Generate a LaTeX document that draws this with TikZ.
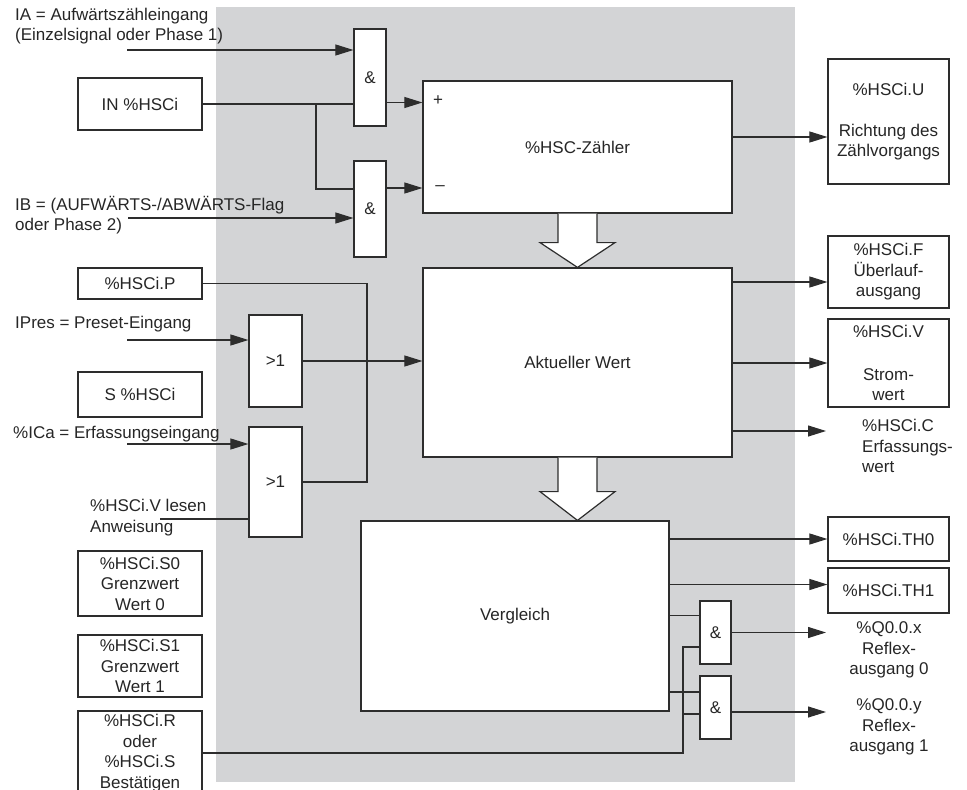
\documentclass[tikz,border=0pt]{standalone}
\usepackage{fontspec}
\setmainfont{Liberation Sans}
\usetikzlibrary{arrows.meta,calc}
\definecolor{hscgrau}{RGB}{211,212,214}
\definecolor{linie}{RGB}{45,45,45}

\begin{document}
\begin{tikzpicture}[x=1pt,y=-1pt,
		font=\fontsize{17}{20.5}\selectfont,
		block/.style={draw=linie,line width=1.2pt,fill=white,inner sep=0pt,align=center,text=black!85},
		gate/.style={block,minimum width=32pt},
		txt/.style={inner sep=0pt,align=left,text=black!85},
		leitung/.style={draw=linie,line width=1.1pt},
		pfeil/.style={leitung,-{Triangle[length=18pt,width=11pt]}},
		blockpfeil/.style={draw=linie,line width=1.2pt,fill=white,line join=miter}]
		\clip (0,0) rectangle (967,790);
		\fill[hscgrau] (216,7) rectangle (795,782);

		\node[gate,minimum height=97pt] (und1) at (370,77.5) {\&};
		\node[gate,minimum height=96pt] (und2) at (370,209) {\&};
		\node[block,minimum width=309pt,minimum height=132pt] (zaehler) at (577.5,147) {\%HSC-Zähler};
		\node[txt] (plus) at (438,101) {+};
		\node[txt] (minus) at (440,188) {--};
		\node[block,minimum width=309pt,minimum height=189pt] (aktwert) at (577.5,362.5) {Aktueller Wert};
		\node[block,minimum width=308pt,minimum height=190pt] (vergleich) at (515,616) {Vergleich};

		\node[block,minimum width=124pt,minimum height=52pt] (inhsc) at (140,104) {IN \%HSCi};
		\node[block,minimum width=124pt,minimum height=31pt] (presetwert) at (140,283.5) {\%HSCi.P};
		\node[block,minimum width=124pt,minimum height=45pt] (shsc) at (140,394.5) {S \%HSCi};
		\node[block,minimum width=124pt,minimum height=65pt] (grenz0) at (140,583.5) {\%HSCi.S0\\Grenzwert\\Wert 0};
		\node[block,minimum width=124pt,minimum height=62pt] (grenz1) at (140,666) {\%HSCi.S1\\Grenzwert\\Wert 1};
		\node[block,minimum width=124pt,minimum height=84pt] (reset) at (140,753) {\%HSCi.R\\oder\\\%HSCi.S\\Bestätigen};

		\node[gate,minimum width=53pt,minimum height=92pt] (oder1) at (275.5,361) {>1};
		\node[gate,minimum width=53pt,minimum height=110pt] (oder2) at (275.5,482) {>1};
		\node[gate,minimum width=31pt,minimum height=63pt] (und3) at (715.5,632.5) {\&};
		\node[gate,minimum width=31pt,minimum height=63pt] (und4) at (715.5,707.5) {\&};

		\node[block,minimum width=121pt,minimum height=125pt] (richtung) at (888.5,121.5) {\%HSCi.U\\[20.5pt]Richtung des\\Zählvorgangs};
		\node[block,minimum width=121pt,minimum height=72pt] (ueberlauf) at (888.5,272) {\%HSCi.F\\Überlauf-\\ausgang};
		\node[block,minimum width=121pt,minimum height=88pt] (stromwert) at (888.5,363) {\%HSCi.V\\[22pt]Strom-\\wert};
		\node[txt,anchor=west] (erfassung) at (862,446) {\%HSCi.C\\Erfassungs-\\wert};
		\node[block,minimum width=121pt,minimum height=44pt] (schwelle0) at (888.5,539) {\%HSCi.TH0};
		\node[block,minimum width=121pt,minimum height=45pt] (schwelle1) at (888.5,590.5) {\%HSCi.TH1};
		\node[txt,align=center] (reflex0) at (889,650) {\%Q0.0.x\\Reflex-\\ausgang 0};
		\node[txt,align=center] (reflex1) at (889,727) {\%Q0.0.y\\Reflex-\\ausgang 1};

		\node[txt,anchor=west] (eingangA) at (15,26) {IA = Aufwärtszähleingang\\(Einzelsignal oder Phase 1)};
		\node[txt,anchor=west] (eingangB) at (15,215) {IB = (AUFWÄRTS-/ABWÄRTS-Flag\\oder Phase 2)};
		\node[txt,anchor=west] (ipres) at (15,324) {IPres = Preset-Eingang};
		\node[txt,anchor=west] (ica) at (13,434) {\%ICa = Erfassungseingang};
		\node[txt,anchor=west] (lesen) at (90,517.5) {\%HSCi.V lesen\\Anweisung};

		\coordinate (ia) at (127,50);
		\coordinate (ib) at (128,218);
		\coordinate (ip) at (127,340);
		\coordinate (ic) at (127,444);
		\coordinate (vl) at (160,519);
		\coordinate (abzw) at (316,0);
		\coordinate (psam) at (367,0);
		\coordinate (rsam) at (683,0);
		\coordinate (cend) at (826,431);
		\coordinate (q0) at (826,633);
		\coordinate (q1) at (826,712);

		\draw[pfeil] (ia) -- (ia -| und1.west);
		\draw[leitung] (inhsc.east) -- (inhsc.east -| und1.west);
		\draw[leitung] (inhsc.east -| abzw) |- ([yshift=20pt]und2.west);
		\draw[pfeil] (ib) -- (ib -| und2.west);
		\draw[pfeil] ([yshift=-25pt]und1.east) -- ([yshift=-25pt]und1.east -| zaehler.west);
		\draw[pfeil] ([yshift=21pt]und2.east) -- ([yshift=21pt]und2.east -| zaehler.west);
		\draw[pfeil] ([yshift=10pt]zaehler.east) -- ([yshift=10pt]zaehler.east -| richtung.west);

		\draw[blockpfeil] ($(zaehler.south)+(-19.5,0)$) -- ($(zaehler.south)+(-19.5,29)$) -- ($(zaehler.south)+(-37.5,29)$) -- (aktwert.north) -- ($(zaehler.south)+(37.5,29)$) -- ($(zaehler.south)+(19.5,29)$) -- ($(zaehler.south)+(19.5,0)$);
		\draw[blockpfeil] ($(aktwert.south)+(-19.5,0)$) -- ($(aktwert.south)+(-19.5,34)$) -- ($(aktwert.south)+(-37.5,34)$) -- (aktwert.south |- vergleich.north) -- ($(aktwert.south)+(37.5,34)$) -- ($(aktwert.south)+(19.5,34)$) -- ($(aktwert.south)+(19.5,0)$);

		\draw[leitung] (presetwert.east) -| (psam |- oder2.east) -- (oder2.east);
		\draw[pfeil] (ip) -- (ip -| oder1.west);
		\draw[pfeil] (oder1.east) -- (oder1.east -| aktwert.west);
		\draw[pfeil] (ic) -- (ic -| oder2.west);
		\draw[leitung] (vl) -- (vl -| oder2.west);

		\draw[pfeil] ([yshift=-10pt]ueberlauf.west -| aktwert.east) -- ([yshift=-10pt]ueberlauf.west);
		\draw[pfeil] (stromwert.west -| aktwert.east) -- (stromwert.west);
		\draw[pfeil] (cend -| aktwert.east) -- (cend);

		\draw[pfeil] (schwelle0.west -| vergleich.east) -- (schwelle0.west);
		\draw[pfeil] ([yshift=6pt]schwelle1.west -| vergleich.east) -- ([yshift=6pt]schwelle1.west);
		\draw[leitung] ([yshift=17pt]und3.west -| vergleich.east) -- ([yshift=17pt]und3.west);
		\draw[leitung] ([yshift=15.5pt]und4.west -| vergleich.east) -- ([yshift=15.5pt]und4.west);
		\draw[leitung] (reset.east) -| ([yshift=-14.5pt]und3.west -| rsam) -- ([yshift=-14.5pt]und3.west);
		\draw[leitung] ([yshift=-6.5pt]und4.west -| rsam) -- ([yshift=-6.5pt]und4.west);
		\draw[pfeil] (und3.east) -- (und3.east -| q0);
		\draw[pfeil] ([yshift=-4.5pt]und4.east) -- ([yshift=-4.5pt]und4.east -| q1);
	\end{tikzpicture}
\end{document}
